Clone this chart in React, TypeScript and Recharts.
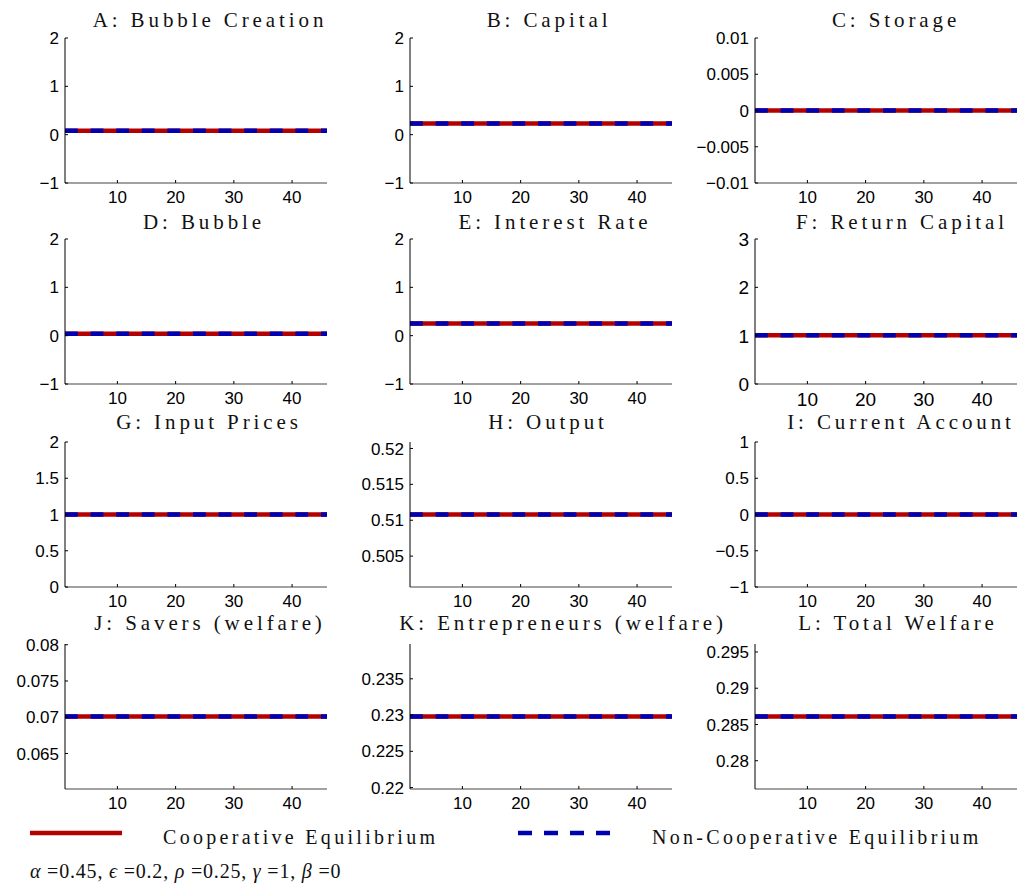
import React from "react";
import { LineChart, Line, XAxis, YAxis } from "recharts";

// horizon of the simulation (periods)
const periods = [
  1, 2, 3, 4, 5, 6, 7, 8, 9, 10, 11, 12, 13, 14, 15, 16, 17, 18, 19, 20, 21, 22, 23,
  24, 25, 26, 27, 28, 29, 30, 31, 32, 33, 34, 35, 36, 37, 38, 39, 40, 41, 42, 43, 44,
  45, 46,
];

const titles = [
  "A: Bubble Creation",
  "B: Capital",
  "C: Storage",
  "D: Bubble",
  "E: Interest Rate",
  "F: Return Capital",
  "G: Input Prices",
  "H: Output",
  "I: Current Account",
  "J: Savers (welfare)",
  "K: Entrepreneurs (welfare)",
  "L: Total Welfare",
];

// steady-state paths, one value per panel
const coopValues = [0.08, 0.23, 0, 0.04, 0.25, 1.01, 1, 0.5108, 0, 0.0701, 0.2298, 0.2861];
const nonCoopValues = [0.08, 0.23, 0, 0.04, 0.25, 1.01, 1, 0.5108, 0, 0.0701, 0.2298, 0.2861];

const yDomains: [number, number][] = [
  [-1, 2],
  [-1, 2],
  [-0.01, 0.01],
  [-1, 2],
  [-1, 2],
  [0, 3],
  [0, 2],
  [0.5007, 0.5209],
  [-1, 1],
  [0.0601, 0.0801],
  [0.2198, 0.2398],
  [0.2761, 0.2961],
];

const yTicks: number[][] = [
  [-1, 0, 1, 2],
  [-1, 0, 1, 2],
  [-0.01, -0.005, 0, 0.005, 0.01],
  [-1, 0, 1, 2],
  [-1, 0, 1, 2],
  [0, 1, 2, 3],
  [0, 0.5, 1, 1.5, 2],
  [0.505, 0.51, 0.515, 0.52],
  [-1, -0.5, 0, 0.5, 1],
  [0.065, 0.07, 0.075, 0.08],
  [0.22, 0.225, 0.23, 0.235],
  [0.28, 0.285, 0.29, 0.295],
];

const xTicks = [10, 20, 30, 40];
const xDomain: [number, number] = [1, 46];

// grid geometry (plot areas)
const COL_X = [65, 410, 755];
const ROW_Y = [38, 239, 442, 644];
const TITLE_Y = [20, 222, 422, 623];
// titles sit a little right of the axes centre, more so for long ones
const TITLE_SHIFT = [14, 8, 10, 8, 14, 16, 13, 7, 15, 14, 22, 12];
const PLOT_W = 262;
const PLOT_H = 145;
const Y_AXIS_W = 80;
const TOP_PAD = 10;
const X_AXIS_H = 34;

const RED = "#B30000";
const BLUE = "#0000B3";
const SERIF = "'Liberation Serif', 'Times New Roman', serif";
const SANS = "'Liberation Sans', Arial, Helvetica, sans-serif";

const fmt = (v: number) => String(v).replace("-", "\u2212");

function YTick(props: any) {
  const { x, y, payload, fs } = props;
  return (
    <g>
      <line x1={x + 6} x2={x + 9} y1={y} y2={y} stroke="#000" strokeWidth={1} />
      <text x={x} y={y} dy="0.36em" textAnchor="end" fontSize={fs} fontFamily={SANS} fill="#000">
        {fmt(payload.value)}
      </text>
    </g>
  );
}

function XTick(props: any) {
  const { x, y, payload, fs } = props;
  return (
    <g>
      <line x1={x} x2={x} y1={y} y2={y - 3} stroke="#000" strokeWidth={1} />
      <text x={x} y={y + fs + 3} textAnchor="middle" fontSize={fs} fontFamily={SANS} fill="#000">
        {payload.value}
      </text>
    </g>
  );
}

function Panel({ idx }: { idx: number }) {
  const row = Math.floor(idx / 3);
  const col = idx % 3;
  const left = COL_X[col];
  const top = ROW_Y[row];
  const fs = idx === 5 ? 19 : 17;
  const data = periods.map((t) => ({ t, coop: coopValues[idx], nonCoop: nonCoopValues[idx] }));

  return (
    <>
      <div
        style={{
          position: "absolute",
          left: left - 100 + TITLE_SHIFT[idx],
          width: PLOT_W + 200,
          top: TITLE_Y[row] - 11,
          textAlign: "center",
          fontFamily: SERIF,
          fontSize: 21,
          letterSpacing: 3.9,
          lineHeight: "22px",
          height: 22,
          color: "#111",
          whiteSpace: "nowrap",
        }}
      >
        {titles[idx]}
      </div>
      <div style={{ position: "absolute", left: left - Y_AXIS_W, top: top - TOP_PAD }}>
        <LineChart
          width={Y_AXIS_W + PLOT_W + 4}
          height={TOP_PAD + PLOT_H + X_AXIS_H}
          data={data}
          margin={{ top: TOP_PAD, right: 4, bottom: 0, left: 0 }}
        >
          <XAxis
            dataKey="t"
            type="number"
            domain={xDomain}
            ticks={xTicks}
            interval={0}
            allowDataOverflow
            height={X_AXIS_H}
            axisLine={{ stroke: "#444", strokeWidth: 1 }}
            tickLine={false}
            tickSize={0}
            tickMargin={0}
            tick={<XTick fs={fs} />}
          />
          <YAxis
            type="number"
            domain={yDomains[idx]}
            ticks={yTicks[idx]}
            interval={0}
            allowDataOverflow
            width={Y_AXIS_W}
            axisLine={{ stroke: "#000", strokeWidth: 1 }}
            tickLine={false}
            tickSize={0}
            tickMargin={6}
            tick={<YTick fs={fs} />}
          />
          <Line
            dataKey="coop"
            type="linear"
            stroke={RED}
            strokeWidth={4.5}
            dot={false}
            activeDot={false}
            isAnimationActive={false}
          />
          <Line
            dataKey="nonCoop"
            type="linear"
            stroke={BLUE}
            strokeWidth={4.5}
            strokeDasharray="12.8 12.8"
            dot={false}
            activeDot={false}
            isAnimationActive={false}
          />
        </LineChart>
      </div>
    </>
  );
}

function FigureLegend() {
  return (
    <svg
      width={1019}
      height={80}
      style={{ position: "absolute", left: 0, top: 809 }}
      fontFamily={SERIF}
    >
      <line x1={30} x2={122} y1={24} y2={24} stroke={RED} strokeWidth={4.5} />
      <text x={163} y={35} fontSize={20} letterSpacing={3.3} fill="#111">
        Cooperative Equilibrium
      </text>
      <line x1={518} x2={612} y1={24} y2={24} stroke={BLUE} strokeWidth={4.5} strokeDasharray="14 12" />
      <text x={652} y={35} fontSize={20} letterSpacing={3.3} fill="#111">
        Non-Cooperative Equilibrium
      </text>
      <text x={30} y={69} fontSize={20} fill="#111" letterSpacing={0.8}>
        <tspan fontStyle="italic">α</tspan> =0.45, <tspan fontStyle="italic">ϵ</tspan> =0.2,{" "}
        <tspan fontStyle="italic">ρ</tspan> =0.25, <tspan fontStyle="italic">γ</tspan> =1,{" "}
        <tspan fontStyle="italic">β</tspan> =0
      </text>
    </svg>
  );
}

export default function App() {
  return (
    <div
      style={{
        position: "absolute",
        left: 0,
        top: 0,
        width: 1019,
        height: 889,
        background: "#fff",
        overflow: "hidden",
      }}
    >
      {titles.map((_, i) => (
        <Panel key={i} idx={i} />
      ))}
      <FigureLegend />
    </div>
  );
}
